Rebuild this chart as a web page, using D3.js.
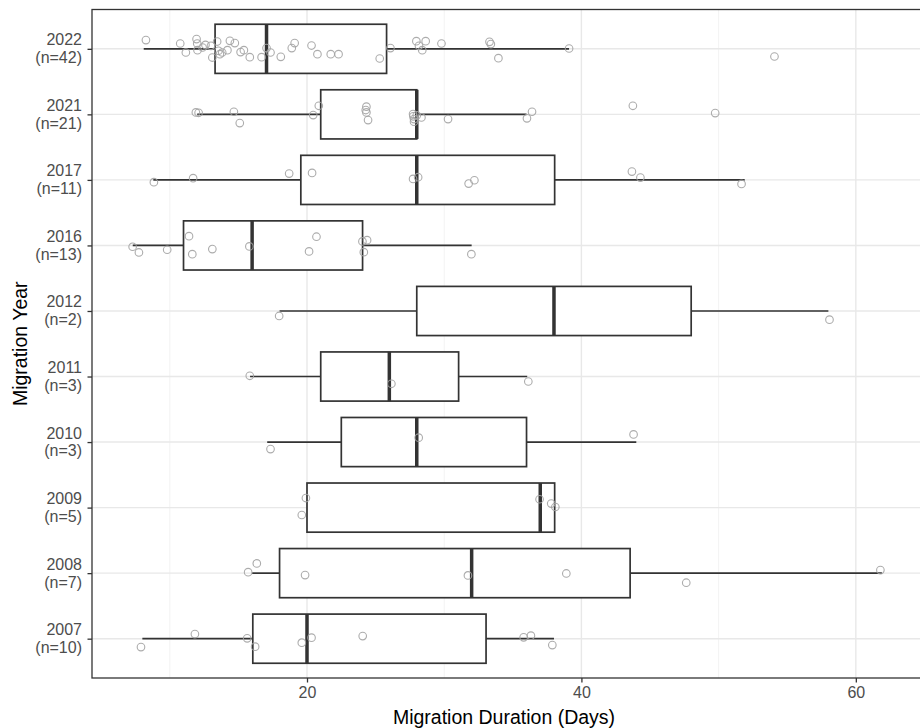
<!DOCTYPE html>
<html>
<head>
<meta charset="utf-8">
<script src="https://cdn.jsdelivr.net/npm/d3@7"></script>
<style>
  body { margin: 0; background: #fff; }
  svg { display: block; font-family: "Liberation Sans", Arial, sans-serif; }
</style>
</head>
<body>
<div id="chart"></div>
<script>
// years, top to bottom, with counts
const years = ["2022", "2021", "2017", "2016", "2012", "2011", "2010", "2009", "2008", "2007"];
const counts = [42, 21, 11, 13, 2, 3, 3, 5, 7, 10];

// box stats per year: [whisker low, q1, median, q3, whisker high]
const boxStats = [
  [8.1, 13.3, 17.05, 25.8, 39.1],
  [12.0, 21.0, 28.0, 28.0, 36.0],
  [8.8, 19.55, 28.0, 38.05, 51.9],
  [7.3, 11.0, 16.0, 24.05, 32.0],
  [18.0, 28.0, 38.0, 48.0, 58.0],
  [15.85, 21.0, 26.0, 31.05, 36.05],
  [17.1, 22.5, 28.0, 36.0, 44.0],
  [20.0, 20.0, 37.0, 38.05, 38.05],
  [16.0, 18.0, 32.0, 43.55, 61.9],
  [8.0, 16.05, 20.0, 33.05, 38.0]
];

// raw points per year: duration in days
const pointValues = [
  [8.26, 10.76, 11.17, 11.95, 12.0, 12.02, 12.39, 12.6, 13.0, 13.1, 13.45, 13.55, 13.65, 13.82, 14.2, 14.38, 14.74, 15.16, 15.4, 15.83, 16.69, 17.05, 17.34, 18.09, 18.89, 19.1, 20.33, 20.76, 21.73, 22.3, 25.3, 26.08, 27.97, 28.16, 28.4, 28.65, 29.8, 33.3, 33.4, 33.95, 39.1, 54.07],
  [11.9, 12.1, 14.67, 15.1, 20.45, 20.86, 24.33, 24.28, 24.33, 24.45, 27.73, 27.8, 27.8, 27.75, 28.0, 28.34, 30.28, 36.03, 36.4, 43.75, 49.75],
  [8.84, 11.7, 18.7, 20.37, 27.73, 28.1, 31.78, 32.2, 43.68, 44.3, 51.67],
  [7.29, 7.75, 9.81, 11.4, 11.64, 13.1, 15.8, 20.69, 20.15, 24.04, 24.38, 24.14, 31.98],
  [17.97, 58.08],
  [15.83, 26.15, 36.13],
  [17.34, 28.14, 43.8],
  [19.92, 19.62, 36.95, 37.8, 38.1],
  [16.34, 15.71, 19.86, 31.73, 38.9, 47.64, 61.79],
  [7.9, 11.83, 15.64, 16.22, 19.62, 20.33, 24.06, 35.79, 36.32, 37.88]
];

// vertical jitter of each point, in units of category spacing
const pointJitter = [
  [-0.133, -0.081, 0.056, -0.148, -0.081, 0.02, -0.02, -0.06, -0.046, 0.133, -0.111, 0.03, 0.081, 0.056, 0.02, -0.122, -0.087, 0.05, 0.02, 0.127, 0.127, -0.011, 0.056, 0.122, -0.011, -0.087, -0.05, 0.081, 0.081, 0.081, 0.148, -0.011, -0.117, -0.046, 0.02, -0.117, -0.081, -0.107, -0.072, 0.142, -0.005, 0.117],
  [-0.03, -0.024, -0.04, 0.133, 0.011, -0.131, -0.117, -0.066, -0.03, 0.087, -0.005, 0.072, 0.113, 0.03, 0.015, 0.046, 0.072, 0.061, -0.04, -0.131, -0.02],
  [0.035, -0.026, -0.096, -0.107, -0.015, -0.041, 0.056, 0.005, -0.127, -0.035, 0.061],
  [0.02, 0.107, 0.066, -0.142, 0.133, 0.056, 0.015, -0.133, 0.091, -0.061, -0.081, 0.102, 0.133],
  [0.076, 0.133],
  [-0.011, 0.111, 0.076],
  [0.107, -0.067, -0.117],
  [-0.146, 0.113, -0.127, -0.061, -0.009],
  [-0.148, -0.015, 0.03, 0.035, 0.005, 0.146, -0.046],
  [0.128, -0.07, -0.005, 0.122, 0.061, -0.015, -0.04, -0.02, -0.046, 0.098]
];

const xTicks = [20, 40, 60];
const xMinor = [10, 30, 50];

const W = 920, H = 728;
const margin = {top: 9.5, right: -1, bottom: 50, left: 92};
const innerW = W - margin.left - margin.right;
const innerH = H - margin.top - margin.bottom;

const svg = d3.select("#chart")
  .append("svg")
    .attr("width", W)
    .attr("height", H);

const x = d3.scaleLinear()
  .domain([4.33, 64.75])
  .range([0, innerW]);

const y = d3.scalePoint()
  .domain(years)
  .range([0, innerH])
  .padding(0.6);

const step = y.step();
const boxH = step * 0.75;

const g = svg.append("g")
  .attr("transform", `translate(${margin.left},${margin.top})`);

// grid
g.selectAll(".minor")
  .data(xMinor)
  .join("line")
    .attr("x1", d => x(d)).attr("x2", d => x(d))
    .attr("y1", 0).attr("y2", innerH)
    .attr("stroke", "#f0f0f0").attr("stroke-width", 0.9);

g.selectAll(".majorx")
  .data(xTicks)
  .join("line")
    .attr("x1", d => x(d)).attr("x2", d => x(d))
    .attr("y1", 0).attr("y2", innerH)
    .attr("stroke", "#e8e8e8").attr("stroke-width", 1.4);

g.selectAll(".majory")
  .data(years)
  .join("line")
    .attr("x1", 0).attr("x2", innerW)
    .attr("y1", d => y(d)).attr("y2", d => y(d))
    .attr("stroke", "#e8e8e8").attr("stroke-width", 1.4);

// boxplots
const boxes = g.selectAll(".box")
  .data(years)
  .join("g")
    .attr("transform", d => `translate(0,${y(d)})`);

boxes.append("line")
  .attr("x1", (d, i) => x(boxStats[i][0]))
  .attr("x2", (d, i) => x(boxStats[i][1]))
  .attr("stroke", "#333").attr("stroke-width", 1.7);

boxes.append("line")
  .attr("x1", (d, i) => x(boxStats[i][3]))
  .attr("x2", (d, i) => x(boxStats[i][4]))
  .attr("stroke", "#333").attr("stroke-width", 1.7);

boxes.append("rect")
  .attr("x", (d, i) => x(boxStats[i][1]))
  .attr("width", (d, i) => x(boxStats[i][3]) - x(boxStats[i][1]))
  .attr("y", -boxH / 2)
  .attr("height", boxH)
  .attr("fill", "#fff")
  .attr("stroke", "#333").attr("stroke-width", 1.7);

boxes.append("line")
  .attr("x1", (d, i) => x(boxStats[i][2]))
  .attr("x2", (d, i) => x(boxStats[i][2]))
  .attr("y1", -boxH / 2).attr("y2", boxH / 2)
  .attr("stroke", "#333").attr("stroke-width", 3.5);

// jittered points
boxes.each(function (d, i) {
  d3.select(this).selectAll("circle")
    .data(pointValues[i].map((v, j) => ({v: v, j: pointJitter[i][j]})))
    .join("circle")
      .attr("cx", p => x(p.v))
      .attr("cy", p => p.j * step)
      .attr("r", 3.8)
      .attr("fill", "none")
      .attr("stroke", "#a3a3a3")
      .attr("stroke-opacity", 0.9)
      .attr("stroke-width", 1.1);
});

// panel border
g.append("rect")
  .attr("width", innerW).attr("height", innerH)
  .attr("fill", "none")
  .attr("stroke", "#333").attr("stroke-width", 1.3);

// x axis
const xAxis = g.append("g")
  .attr("transform", `translate(0,${innerH})`)
  .call(d3.axisBottom(x).tickValues(xTicks).tickSize(4.5).tickPadding(4));
xAxis.select(".domain").remove();
xAxis.selectAll("line").attr("stroke", "#333").attr("stroke-width", 1.3);
xAxis.selectAll("text")
  .attr("fill", "#4d4d4d")
  .style("font-size", "16px")
  .style("font-family", "Liberation Sans, Arial, sans-serif");

// y axis
const yAxis = g.append("g")
  .call(d3.axisLeft(y).tickSize(4.5).tickFormat(""));
yAxis.select(".domain").remove();
yAxis.selectAll("line").attr("stroke", "#333").attr("stroke-width", 1.3);

g.selectAll(".ylab")
  .data(years)
  .join("text")
    .attr("x", -10)
    .attr("y", d => y(d))
    .attr("text-anchor", "end")
    .attr("fill", "#4d4d4d")
    .style("font-size", "16px")
    .each(function (d, i) {
      const t = d3.select(this);
      t.append("tspan").attr("x", -10).attr("dy", "-0.22em").text(d);
      t.append("tspan").attr("x", -10).attr("dy", "1.12em").text(`(n=${counts[i]})`);
    });

// titles
svg.append("text")
  .attr("x", margin.left + (W - margin.left) / 2 - 2)
  .attr("y", 724)
  .attr("text-anchor", "middle")
  .attr("fill", "#000")
  .style("font-size", "19.5px")
  .text("Migration Duration (Days)");

svg.append("text")
  .attr("transform", `translate(27,${margin.top + innerH / 2}) rotate(-90)`)
  .attr("text-anchor", "middle")
  .attr("fill", "#000")
  .style("font-size", "19.5px")
  .text("Migration Year");
</script>
</body>
</html>
